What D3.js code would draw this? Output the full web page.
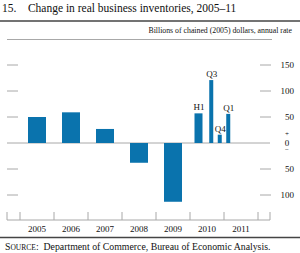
<!DOCTYPE html>
<html>
<head>
<meta charset="utf-8">
<script src="https://cdn.jsdelivr.net/npm/d3@7"></script>
<style>
  body { margin: 0; background: #fff; }
  text { font-family: "Liberation Serif", "DejaVu Serif", serif; fill: #111; }
</style>
</head>
<body>
<div id="container"></div>
<script>
const years = [2005, 2006, 2007, 2008, 2009];
const annualValues = [50, 59, 27, -38, -113];
const partLabels = ['H1', 'Q3', 'Q4', 'Q1'];
const partStarts = [2010, 2010.5, 2010.75, 2011];
const partEnds = [2010.5, 2010.75, 2011, 2011.25];
const partValues = [57, 121, 16, 56];
const yearLabels = ['2005', '2006', '2007', '2008', '2009', '2010', '2011'];
const yTicks = [150, 100, 50, -50, -100];

const WIDTH = 300;
const HEIGHT = 253;
const BLUE = '#0a73ad';
const GRAY = '#a8a8a8';

const canvas = d3.select('#container').append('svg').attr('width', WIDTH).attr('height', HEIGHT);

const x = d3.scaleLinear().domain([2005, 2012]).range([20, 258]);
const y = d3.scaleLinear().domain([0, 50]).range([143, 117]);

// title and rules
canvas.append('text').attr('x', 2).attr('y', 12).attr('font-size', 11.5)
  .attr('xml:space', 'preserve').text('15.    Change in real business inventories, 2005–11');
canvas.append('line').attr('x1', 0).attr('x2', 300).attr('y1', 21).attr('y2', 21)
  .attr('stroke', '#444').attr('stroke-width', 1.3);
canvas.append('text').attr('x', 292).attr('y', 33).attr('font-size', 7.8).attr('text-anchor', 'end')
  .text('Billions of chained (2005) dollars, annual rate');
canvas.append('line').attr('x1', 7).attr('x2', 272).attr('y1', 39.5).attr('y2', 39.5)
  .attr('stroke', GRAY).attr('stroke-width', 1);

// y ticks left and right
const tickG = canvas.append('g');
tickG.selectAll('.lt').data(yTicks).join('line')
  .attr('x1', 7).attr('x2', 18).attr('y1', (d) => y(d)).attr('y2', (d) => y(d))
  .attr('stroke', GRAY);
tickG.selectAll('.rt').data(yTicks).join('line')
  .attr('x1', 260).attr('x2', 271).attr('y1', (d) => y(d)).attr('y2', (d) => y(d))
  .attr('stroke', GRAY);
tickG.selectAll('text').data(yTicks).join('text')
  .attr('x', 294).attr('y', (d) => y(d)).attr('dy', '0.32em')
  .attr('text-anchor', 'end').attr('font-size', 9)
  .text((d) => Math.abs(d));
canvas.append('text').attr('x', 287).attr('y', 136).attr('font-size', 7).attr('text-anchor', 'middle').text('+');
canvas.append('text').attr('x', 287).attr('y', 145.5).attr('font-size', 9).attr('text-anchor', 'middle').text('0');
canvas.append('text').attr('x', 287).attr('y', 152).attr('font-size', 7).attr('text-anchor', 'middle').text('−');

// zero line
canvas.append('line').attr('x1', 7).attr('x2', 270).attr('y1', y(0)).attr('y2', y(0))
  .attr('stroke', GRAY);

// bars
const bars = canvas.append('g');
bars.selectAll('.ann').data(years).join('rect')
  .attr('x', (d) => x(d + 0.5) - 9).attr('width', 18)
  .attr('y', (d, i) => y(Math.max(0, annualValues[i])))
  .attr('height', (d, i) => Math.abs(y(annualValues[i]) - y(0)))
  .attr('fill', BLUE);
bars.selectAll('.part').data(partLabels).join('rect')
  .attr('class', 'part')
  .attr('x', (d, i) => (x(partStarts[i]) + x(partEnds[i])) / 2 - (i === 0 ? 4 : 2))
  .attr('width', (d, i) => (i === 0 ? 8 : 4))
  .attr('y', (d, i) => y(Math.max(0, partValues[i])))
  .attr('height', (d, i) => Math.abs(y(partValues[i]) - y(0)))
  .attr('fill', BLUE);
canvas.append('g').selectAll('text').data(partLabels).join('text')
  .attr('x', (d, i) => (x(partStarts[i]) + x(partEnds[i])) / 2 + 0.5)
  .attr('y', (d, i) => y(partValues[i]) - 3)
  .attr('text-anchor', 'middle').attr('font-size', 9)
  .text((d) => d);

// bottom axis
canvas.append('line').attr('x1', 7).attr('x2', 270).attr('y1', 220).attr('y2', 220)
  .attr('stroke', GRAY);
const bounds = d3.range(2005, 2013).map((d) => x(d)).concat([7, 270]);
canvas.append('g').selectAll('line').data(bounds).join('line')
  .attr('x1', (d) => d).attr('x2', (d) => d).attr('y1', 212).attr('y2', 220)
  .attr('stroke', GRAY);
canvas.append('g').selectAll('text').data(yearLabels).join('text')
  .attr('x', (d) => x(+d + 0.5)).attr('y', 232)
  .attr('text-anchor', 'middle').attr('font-size', 9)
  .text((d) => d);

// source
canvas.append('line').attr('x1', 0).attr('x2', 300).attr('y1', 237.5).attr('y2', 237.5)
  .attr('stroke', '#444').attr('stroke-width', 1.3);
const src = canvas.append('text').attr('x', 5).attr('y', 250).attr('font-size', 9.8);
src.append('tspan').text('S');
src.append('tspan').attr('font-size', 7.5).text('OURCE');
src.append('tspan').attr('xml:space', 'preserve').text(':  Department of Commerce, Bureau of Economic Analysis.');
</script>
</body>
</html>
